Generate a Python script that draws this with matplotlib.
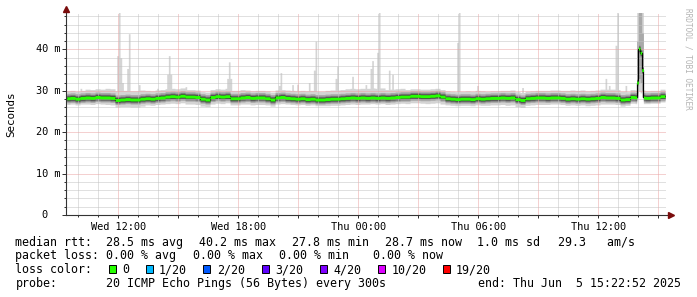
# SmokePing style latency graph (30 hours, 20 pings every 300s)

import numpy as np
import pandas as pd
import matplotlib
matplotlib.use('Agg')
import matplotlib.pyplot as plt
import matplotlib.dates as mdates
from matplotlib.patches import Rectangle
from matplotlib.ticker import MultipleLocator, FuncFormatter

plt.rcParams['font.family'] = ['DejaVu Sans Mono', 'DejaVu Sans']

# ---------------- data ----------------
first_sample = '2025-06-04 09:25'
n_samples = 360                       # 5 minute steps
view_start = '2025-06-04 09:22:52'
view_end = '2025-06-05 15:22:52'

# median rtt in ms, one value per 15 minutes
median_15 = [
    28.2, 28.3, 28.1, 28.3, 28.4, 28.3, 28.5, 28.4, 28.4, 28.3,
    27.8, 27.9, 28.0, 27.9, 27.9, 28.1, 28.2, 28.1, 28.3, 28.4,
    28.6, 28.7, 28.6, 28.8, 28.6, 28.6, 28.5, 28.1, 27.9, 28.5,
    28.7, 28.6, 28.7, 28.2, 28.2, 28.4, 28.5, 28.3, 28.4, 28.4,
    28.2, 27.9, 28.4, 28.5, 28.3, 28.2, 28.1, 28.2, 28.0, 28.1,
    27.9, 27.9, 28.0, 28.1, 28.1, 28.2, 28.3, 28.4, 28.3, 28.4,
    28.3, 28.4, 28.3, 28.4, 28.3, 28.4, 28.5, 28.6, 28.6, 28.8,
    28.8, 28.7, 28.7, 28.8, 28.9, 28.6, 28.2, 28.1, 28.0, 28.1,
    28.1, 28.0, 28.2, 28.1, 28.2, 28.3, 28.3, 28.4, 28.3, 28.4,
    28.0, 27.8, 28.2, 28.3, 28.4, 28.4, 28.3, 28.4, 28.4, 28.3,
    28.1, 28.2, 28.1, 28.2, 28.1, 28.2, 28.3, 28.5, 28.4, 28.4,
    28.3, 27.9, 28.0, 28.5, 28.4, 28.4, 28.3, 28.4, 28.4, 28.7,
]

# spread of fastest / slowest ping around the median, ms, one value per hour
smoke_dn = [1.5, 1.6, 1.7, 1.8, 1.6, 1.7, 1.8, 1.7, 1.6, 1.7,
            1.6, 1.5, 1.5, 1.6, 1.6, 1.5, 1.6, 1.7, 1.8, 1.6,
            1.6, 1.7, 1.8, 1.7, 1.6, 1.6, 1.7, 1.6, 1.5, 1.4]
smoke_up = [1.8, 2.0, 2.2, 2.1, 1.9, 1.9, 1.7, 1.8, 1.9, 1.7,
            1.8, 1.9, 2.0, 2.1, 2.2, 2.3, 2.0, 1.7, 1.7, 1.8,
            1.9, 1.7, 1.8, 1.7, 1.8, 2.0, 1.9, 2.0, 1.8, 1.7]

# short excursions of the slowest pings
spike_times = [
    '06-04 10:10', '06-04 12:00', '06-04 12:05', '06-04 12:10', '06-04 12:15',
    '06-04 12:30', '06-04 12:35', '06-04 13:05', '06-04 14:00', '06-04 14:30',
    '06-04 14:35', '06-04 14:40', '06-04 15:25', '06-04 17:30', '06-04 17:35',
    '06-04 17:40', '06-04 20:05', '06-04 20:10', '06-04 20:45', '06-04 21:00',
    '06-04 21:35', '06-04 21:50', '06-04 21:55', '06-04 22:55', '06-04 23:00',
    '06-04 23:45', '06-05 00:25', '06-05 00:40', '06-05 00:45', '06-05 01:00',
    '06-05 01:05', '06-05 01:35', '06-05 01:45', '06-05 02:20', '06-05 05:00',
    '06-05 05:05', '06-05 06:00', '06-05 08:15', '06-05 12:25', '06-05 12:35',
    '06-05 12:55', '06-05 13:00', '06-05 13:25',
]
spike_top = [
    30.6, 38.5, 50.0, 38.0, 32.0,
    35.4, 43.8, 31.5, 30.6, 34.0,
    38.5, 34.0, 31.0, 33.0, 37.0,
    33.0, 31.3, 34.4, 31.5, 31.6,
    32.0, 35.0, 42.0, 33.0, 36.0,
    33.5, 31.5, 35.4, 37.3, 39.3,
    50.0, 35.0, 34.0, 30.6, 41.7,
    50.0, 31.3, 30.8, 33.0, 31.3,
    41.0, 50.0, 31.3,
]

# the 14:00 event, per sample
event_times = ['06-05 14:00', '06-05 14:05', '06-05 14:10', '06-05 14:15']
event_med = [32.0, 40.2, 39.2, 35.0]
event_lo = [28.3, 30.0, 29.5, 28.5]
event_mid_lo = [29.5, 33.0, 32.0, 30.0]
event_mid_hi = [42.0, 50.0, 50.0, 44.0]
event_hi = [50.0, 50.0, 50.0, 49.0]

loss_labels = ['0', '1/20', '2/20', '3/20', '4/20', '10/20', '19/20']
loss_colors = ['#26ff00', '#00b8ff', '#0059ff', '#5e00ff', '#7e00ff', '#dd00ff', '#ff0000']

ytick_vals = [0, 10, 20, 30, 40]

# ---------------- build series ----------------
t = pd.date_range(first_sample, periods=n_samples, freq='5min')
med = np.repeat(np.array(median_15, dtype=float), 3)
lo = med - np.repeat(smoke_dn, 12)
hi = med + np.repeat(smoke_up, 12)
mid_lo = med - 1.1
mid_hi = med + 1.2

def sample_index(s):
    return t.get_loc(pd.Timestamp('2025-' + s))

for s, v in zip(spike_times, spike_top):
    i = sample_index(s)
    hi[i] = max(hi[i], v)

for k, s in enumerate(event_times):
    i = sample_index(s)
    med[i] = event_med[k]
    lo[i] = event_lo[k]
    hi[i] = event_hi[k]
    mid_lo[i] = event_mid_lo[k]
    mid_hi[i] = event_mid_hi[k]

# ---------------- figure ----------------
W, H = 697, 297
fig = plt.figure(figsize=(W / 100, H / 100), dpi=100)
fig.patch.set_facecolor('white')

def fx(x):
    return x / W

def fy(y):
    return 1 - y / H

ax = fig.add_axes([fx(66), fy(215), 600 / W, 202 / H])
ax.set_facecolor('white')
ax.set_xlim(pd.Timestamp(view_start), pd.Timestamp(view_end))
ax.set_ylim(0, 48.8)

axis_c = '#333333'
arrow_c = '#7a0c0c'

# smoke
ax.fill_between(t, lo, hi, step='pre', color='#d4d4d4', lw=0, zorder=1.0)
ax.fill_between(t, mid_lo, mid_hi, step='pre', color='#a9a9a9', lw=0, zorder=1.2)
for (d, u), c, z in zip([(0.8, 0.8), (0.55, 0.55)], ['#7a7a7a', '#474747'], [1.4, 1.6]):
    ax.fill_between(t, med - d, med + u, step='pre', color=c, lw=0, zorder=z)

# median
ax.step(t, med, where='pre', color='black', lw=0.9, zorder=3)
ax.fill_between(t, med - 0.36, med + 0.36, step='pre', color=loss_colors[0], lw=0, zorder=4)

# grid
ax.set_axisbelow(False)
ax.xaxis.set_major_locator(mdates.HourLocator(byhour=range(0, 24, 3)))
ax.xaxis.set_minor_locator(mdates.HourLocator())
ax.yaxis.set_major_locator(MultipleLocator(10))
ax.yaxis.set_minor_locator(MultipleLocator(2))

def xlabel_fmt(x, pos):
    d = mdates.num2date(x)
    return d.strftime('%a %H:%M') if d.hour % 6 == 0 else ''

ax.xaxis.set_major_formatter(FuncFormatter(xlabel_fmt))
ax.yaxis.set_major_formatter(FuncFormatter(lambda v, p: ''))
ax.grid(which='minor', color='#c2c2c2', linestyle=(0, (1, 1)), lw=0.72)
ax.grid(which='major', color='#eba3a3', linestyle=(0, (1, 1)), lw=0.72)

for sp in ax.spines.values():
    sp.set_visible(False)

ax.tick_params(axis='x', which='major', length=2.2, width=0.72, color=axis_c,
               pad=2.6, labelsize=7.4, labelcolor='black')
ax.tick_params(axis='x', which='minor', length=1.4, width=0.72, color=axis_c)
ax.tick_params(axis='y', which='major', length=2.9, width=0.72, color=axis_c)
ax.tick_params(axis='y', which='minor', length=1.4, width=0.72, color=axis_c)

# y tick labels
ytr = ax.get_yaxis_transform()
for v in ytick_vals:
    if v == 0:
        ax.text(-19 / 600, v, '0', transform=ytr, ha='right', va='center',
                fontsize=7.4, color='black')
    else:
        ax.text(-6 / 600, v, '%d m' % v, transform=ytr, ha='right', va='center',
                fontsize=7.4, color='black')

# axes with arrows
ax.plot([0, 0], [0, 1 + 3 / 202], transform=ax.transAxes, color=axis_c, lw=0.8,
        clip_on=False, zorder=6)
ax.plot([0, 1 + 4 / 600], [0, 0], transform=ax.transAxes, color=axis_c, lw=0.8,
        clip_on=False, zorder=6)
ax.plot([0], [1 + 4 / 202], transform=ax.transAxes, marker='^', ms=4, color=arrow_c,
        mec=arrow_c, clip_on=False, zorder=7)
ax.plot([1 + 5 / 600], [0], transform=ax.transAxes, marker='>', ms=4, color=arrow_c,
        mec=arrow_c, clip_on=False, zorder=7)

# axis title and watermark
fig.text(fx(11), fy(114.5), 'Seconds', rotation=90, ha='center', va='center',
         fontsize=7.8, color='black')
fig.text(fx(688), fy(59), 'RRDTOOL / TOBI OETIKER', rotation=270, ha='center',
         va='center', fontsize=5.6, color='#b4b4b4')

# legend
fs = 8.4
lines = [
    (245.7, [(16, 'median rtt:'), (107, '28.5 ms avg'), (200, '40.2 ms max'),
             (292.7, '27.8 ms min'), (385.7, '28.7 ms now'), (478, '1.0 ms sd'),
             (558.3, '29.3   am/s')]),
    (259.3, [(16, 'packet loss:'), (107, '0.00 % avg'), (193.3, '0.00 % max'),
             (279.3, '0.00 % min'), (373.3, '0.00 % now')]),
    (273.3, [(16, 'loss color:')]),
    (287.3, [(16, 'probe:'), (107, '20 ICMP Echo Pings (56 Bytes) every 300s'),
             (478.3, 'end: Thu Jun  5 15:22:52 2025')]),
]
for base, segs in lines:
    for x, s in segs:
        fig.text(fx(x - 0.6), fy(base), s, ha='left', va='baseline', fontsize=fs,
                 color='black')

box_x = [108.7, 145.7, 203.3, 261.7, 320, 378.3, 442.7]
for bx, lab, c in zip(box_x, loss_labels, loss_colors):
    fig.add_artist(Rectangle((fx(bx), fy(272.8)), 7 / W, 7.5 / H, transform=fig.transFigure,
                             facecolor=c, edgecolor='black', lw=0.7))
    fig.text(fx(bx + 14 - 0.6), fy(273.3), lab, ha='left', va='baseline', fontsize=fs,
             color='black')

fig.savefig('out.png', dpi=100)
